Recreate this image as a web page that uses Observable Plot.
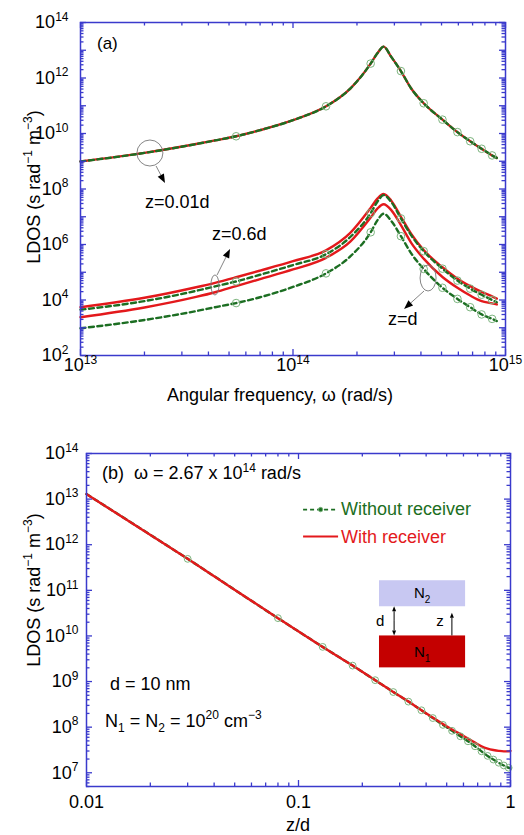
<!DOCTYPE html>
<html><head><meta charset="utf-8">
<script src="https://cdn.jsdelivr.net/npm/d3@7"></script>
<script src="https://cdn.jsdelivr.net/npm/@observablehq/plot@0.6"></script>
<style>
body{margin:0;background:#fff;}
#chart{width:524px;height:835px;}
svg{display:block;}
</style></head><body><div id="chart"></div>
<script>
// ---------------- Panel (a): LDOS vs angular frequency ----------------
const omega = [1e13, 2.0e13, 3.5e13, 4.3e13, 5.4e13, 7.0e13, 1.0e14, 1.43e14, 1.86e14, 2.32e14, 2.5e14, 2.67e14, 2.9e14, 3.22e14, 3.6e14, 4.12e14, 5.05e14, 5.94e14, 6.82e14, 7.72e14, 8.65e14, 9.1e14];
// log10(LDOS)
const expZ001 = [8.99, 9.30, 9.62, 9.75, 9.90, 10.12, 10.48, 10.98, 11.62, 12.52, 12.90, 13.13, 12.76, 12.25, 11.62, 11.09, 10.50, 10.05, 9.72, 9.45, 9.21, 9.12];
const expZ06With = [3.74, 4.08, 4.46, 4.62, 4.82, 5.06, 5.40, 5.79, 6.42, 7.32, 7.66, 7.82, 7.58, 7.00, 6.38, 5.80, 5.18, 4.77, 4.50, 4.29, 4.13, 4.05];
const expZ06Without = [3.65, 3.96, 4.33, 4.49, 4.67, 4.91, 5.26, 5.65, 6.27, 7.13, 7.55, 7.78, 7.53, 6.94, 6.33, 5.76, 5.13, 4.70, 4.41, 4.19, 4.00, 3.92];
const expZdWith = [3.38, 3.73, 4.11, 4.28, 4.50, 4.75, 5.10, 5.52, 6.10, 6.97, 7.30, 7.45, 7.24, 6.70, 6.06, 5.49, 4.83, 4.44, 4.16, 3.96, 3.88, 3.84];
const expZdWithout = [2.98, 3.28, 3.60, 3.74, 3.89, 4.10, 4.47, 4.96, 5.57, 6.44, 6.88, 7.11, 6.85, 6.30, 5.68, 5.12, 4.44, 4.04, 3.74, 3.48, 3.32, 3.24];
const markerOmega = [5.4e13, 1.43e14, 2.32e14, 3.22e14, 4.12e14, 5.05e14, 5.94e14, 6.82e14, 7.72e14, 8.65e14];
const xTicksA = [1e13, 1e14, 1e15];
const yTicksA = [1e2, 1e4, 1e6, 1e8, 1e10, 1e12, 1e14];

// ---------------- Panel (b): LDOS vs z/d ----------------
const zd = [0.01, 0.03, 0.08, 0.13, 0.18, 0.23, 0.28, 0.33, 0.38, 0.43, 0.48, 0.53, 0.58, 0.63, 0.68, 0.73, 0.78, 0.83, 0.88, 0.93, 0.98, 1.0];
const expBWithout = [13.11, 11.69, 10.39, 9.76, 9.35, 9.03, 8.77, 8.56, 8.37, 8.20, 8.05, 7.92, 7.80, 7.69, 7.58, 7.47, 7.37, 7.29, 7.22, 7.16, 7.11, 7.10];
const expBWith = [13.11, 11.69, 10.39, 9.76, 9.35, 9.03, 8.77, 8.56, 8.37, 8.21, 8.07, 7.95, 7.85, 7.75, 7.66, 7.58, 7.53, 7.50, 7.48, 7.47, 7.47, 7.48];
const markerZd = [0.03, 0.08, 0.13, 0.18, 0.23, 0.28, 0.33, 0.38, 0.43, 0.48, 0.53, 0.58, 0.63, 0.68, 0.73, 0.78, 0.83, 0.88, 0.93, 0.98];
const xTicksB = [0.01, 0.1, 1];
const yTicksB = [1e7, 1e8, 1e9, 1e10, 1e11, 1e12, 1e13, 1e14];

const RED = "#e3191c", GREEN = "#1c6e22", CIRC = "#7cb47e", BLUE = "#3a3acc";
const FONT = "Arial, 'Liberation Sans', Helvetica, sans-serif";
const NS = "http://www.w3.org/2000/svg";

function rows(xs, exps, curve) { return xs.map((x, i) => ({x, y: 10 ** exps[i], curve})); }
function minorLog(lo, hi, min, max) {
  const out = [];
  for (let e = lo; e < hi; e++) for (let m = 2; m <= 9; m++) { const v = m * 10 ** e; if (v >= min && v <= max) out.push(v); }
  return out;
}
const pow10 = d => `10^{${Math.round(Math.log10(d))}}`;

function richify(el, fs) {
  const s = el.textContent;
  if (!/[\^_]\{/.test(s)) return;
  const parts = s.split(/([\^_]\{[^}]*\})/);
  while (el.firstChild) el.removeChild(el.firstChild);
  let shift = 0;
  for (const p of parts) {
    if (!p) continue;
    const m = p.match(/^([\^_])\{(.*)\}$/);
    const t = document.createElementNS(NS, "tspan");
    if (m) {
      const target = m[1] === "^" ? -0.42 * fs : 0.28 * fs;
      t.setAttribute("dy", target - shift); shift = target;
      t.setAttribute("font-size", Math.round(0.68 * fs));
      t.textContent = m[2];
    } else {
      t.setAttribute("dy", -shift); shift = 0;
      t.textContent = p;
    }
    el.appendChild(t);
  }
}
function richifyAll(svg) {
  d3.select(svg).selectAll("text").each(function () {
    richify(this, parseFloat(getComputedStyle(this).fontSize));
  });
}
function frameTicks(xMaj, xMin, yMaj, yMin, iw, ih) {
  const st = {stroke: BLUE, strokeWidth: 1.3};
  const MJ = 6, MN = 3.5;
  return [
    Plot.ruleX(xMaj, {x: d => d, insetTop: ih - MJ, ...st}),
    Plot.ruleX(xMaj, {x: d => d, insetBottom: ih - MJ, ...st}),
    Plot.ruleX(xMin, {x: d => d, insetTop: ih - MN, ...st}),
    Plot.ruleX(xMin, {x: d => d, insetBottom: ih - MN, ...st}),
    Plot.ruleY(yMaj, {y: d => d, insetRight: iw - MJ, ...st}),
    Plot.ruleY(yMaj, {y: d => d, insetLeft: iw - MJ, ...st}),
    Plot.ruleY(yMin, {y: d => d, insetRight: iw - MN, ...st}),
    Plot.ruleY(yMin, {y: d => d, insetLeft: iw - MN, ...st})
  ];
}
function addText(g, x, y, str, o = {}) {
  const size = o.size || 18;
  const t = g.append("text").attr("x", x).attr("y", y).attr("font-size", size)
    .attr("fill", o.fill || "black").attr("text-anchor", o.anchor || "start").attr("font-family", FONT);
  if (o.rotate) t.attr("transform", `rotate(${o.rotate},${x},${y})`);
  t.text(str);
  richify(t.node(), size);
  return t;
}
function arrow(g, x1, y1, x2, y2, o = {}) {
  const hl = o.hl || 9, hw = o.hw || 7;
  const dx = x2 - x1, dy = y2 - y1, L = Math.hypot(dx, dy), ux = dx / L, uy = dy / L;
  const bx = x2 - ux * hl, by = y2 - uy * hl;
  g.append("line").attr("x1", x1).attr("y1", y1).attr("x2", bx).attr("y2", by)
    .attr("stroke", o.stroke || "#777").attr("stroke-width", o.sw || 0.9);
  g.append("path").attr("d", `M${x2},${y2}L${bx - uy * hw / 2},${by + ux * hw / 2}L${bx + uy * hw / 2},${by - ux * hw / 2}Z`)
    .attr("fill", o.head || "#000");
}

const chart = document.getElementById("chart");

// ---------- Panel (a) ----------
{
  const W = 524, H = 412, ml = 80, mr = 19, mt = 22, mb = 57;
  const iw = W - ml - mr, ih = H - mt - mb;
  const red = [...rows(omega, expZ001, "z001"), ...rows(omega, expZ06With, "z06"), ...rows(omega, expZdWith, "zd")];
  const green = [...rows(omega, expZ001, "z001"), ...rows(omega, expZ06Without, "z06"), ...rows(omega, expZdWithout, "zd")];
  const marks = green.filter(d => markerOmega.includes(d.x));
  const svg = Plot.plot({
    width: W, height: H, marginLeft: ml, marginRight: mr, marginTop: mt, marginBottom: mb,
    x: {type: "log", domain: [1e13, 1e15], label: null},
    y: {type: "log", domain: [1e2, 1e14], label: null},
    style: {fontFamily: FONT, fontSize: "18px", color: "black", background: "white", overflow: "visible"},
    marks: [
      Plot.line(red, {x: "x", y: "y", z: "curve", stroke: RED, strokeWidth: 2.4, curve: "monotone-x"}),
      Plot.line(green, {x: "x", y: "y", z: "curve", stroke: GREEN, strokeWidth: 2.4, strokeDasharray: "5,3.5", curve: "monotone-x"}),
      Plot.dot(marks, {x: "x", y: "y", r: 3.8, stroke: CIRC, strokeWidth: 1, fill: "none"}),
      ...frameTicks(xTicksA, minorLog(13, 15, 1e13, 1e15), minorLog(2, 15, 1e2, 1e14).length ? d3.range(2, 15).map(e => 10 ** e) : [], minorLog(2, 14, 1e2, 1e14), iw, ih),
      Plot.frame({stroke: BLUE, strokeWidth: 1.5}),
      Plot.axisX(xTicksA, {tickSize: 0, tickPadding: 3, tickFormat: pow10, fontSize: 18, label: null}),
      Plot.axisY(yTicksA, {tickSize: 0, tickPadding: 12, tickFormat: pow10, fontSize: 18, label: null})
    ]
  });
  chart.appendChild(svg);
  richifyAll(svg);
  const sx = svg.scale("x"), sy = svg.scale("y");
  const P = (lx, ly) => [sx.apply(10 ** lx), sy.apply(10 ** ly)];
  const g = d3.select(svg).append("g");
  addText(g, ...P(13.08, 13.03), "(a)", {size: 17});
  // z = 0.01d
  let c = P(13.329, 9.279);
  g.append("circle").attr("cx", c[0]).attr("cy", c[1]).attr("r", 13).attr("fill", "none").attr("stroke", "#777").attr("stroke-width", 0.9);
  arrow(g, ...P(13.358, 8.811), ...P(13.400, 8.198));
  addText(g, ...P(13.306, 7.297), "z=0.01d");
  // z = 0.6d
  c = P(13.635, 4.523);
  g.append("ellipse").attr("cx", c[0]).attr("cy", c[1]).attr("rx", 4).attr("ry", 10).attr("fill", "none").attr("stroke", "#777").attr("stroke-width", 0.9);
  arrow(g, ...P(13.645, 4.883), ...P(13.706, 5.82));
  addText(g, ...P(13.621, 6.144), "z=0.6d");
  // z = d
  c = P(14.638, 4.775);
  g.append("ellipse").attr("cx", c[0]).attr("cy", c[1]).attr("rx", 8).attr("ry", 13).attr("fill", "none").attr("stroke", "#777").attr("stroke-width", 0.9);
  arrow(g, ...P(14.619, 4.306), ...P(14.525, 3.658));
  addText(g, ...P(14.449, 3.081), "z=d");
  // axis titles
  addText(g, 280, 401, "Angular frequency, ω (rad/s)", {anchor: "middle"});
  addText(g, 40, 187, "LDOS (s rad^{−1} m^{−3})", {anchor: "middle", rotate: -90});
}

// ---------- Panel (b) ----------
{
  const W = 524, H = 423, ml = 86, mr = 14, mt = 41, mb = 49;
  const iw = W - ml - mr, ih = H - mt - mb;
  const without = rows(zd, expBWithout, "without");
  const withR = rows(zd, expBWith, "with");
  const marks = without.filter(d => markerZd.includes(d.x));
  const svg = Plot.plot({
    width: W, height: H, marginLeft: ml, marginRight: mr, marginTop: mt, marginBottom: mb,
    x: {type: "log", domain: [0.01, 1], label: null},
    y: {type: "log", domain: [5e6, 1e14], label: null},
    style: {fontFamily: FONT, fontSize: "18px", color: "black", background: "white", overflow: "visible"},
    marks: [
      Plot.line(without, {x: "x", y: "y", stroke: GREEN, strokeWidth: 2.4, strokeDasharray: "5,3.5", curve: "monotone-x"}),
      Plot.line(withR, {x: "x", y: "y", stroke: RED, strokeWidth: 2.4, curve: "monotone-x"}),
      Plot.dot(marks, {x: "x", y: "y", r: 3.4, stroke: CIRC, strokeWidth: 1, fill: "none"}),
      ...frameTicks(xTicksB, minorLog(-2, 0, 0.01, 1), yTicksB, minorLog(6, 14, 5e6, 1e14), iw, ih),
      Plot.frame({stroke: BLUE, strokeWidth: 1.5}),
      Plot.axisX(xTicksB, {tickSize: 0, tickPadding: 9, tickFormat: d => String(d), fontSize: 18, label: null}),
      Plot.axisY(yTicksB, {tickSize: 0, tickPadding: 8, tickFormat: pow10, fontSize: 18, label: null})
    ]
  });
  chart.appendChild(svg);
  richifyAll(svg);
  const sx = svg.scale("x"), sy = svg.scale("y");
  const P = (lx, ly) => [sx.apply(10 ** lx), sy.apply(10 ** ly)];
  const g = d3.select(svg).append("g");
  addText(g, ...P(-1.925, 13.42), "(b)  ω = 2.67 x 10^{14} rad/s");
  // legend
  let a = P(-0.976, 12.76), b = P(-0.811, 12.76);
  g.append("line").attr("x1", a[0]).attr("y1", a[1]).attr("x2", b[0]).attr("y2", b[1]).attr("stroke", GREEN).attr("stroke-width", 1.8).attr("stroke-dasharray", "4,3");
  g.append("circle").attr("cx", (a[0] + b[0]) / 2).attr("cy", a[1]).attr("r", 2.2).attr("fill", GREEN).attr("stroke", CIRC).attr("stroke-width", 1);
  addText(g, ...P(-0.797, 12.63), "Without receiver", {fill: GREEN});
  a = P(-0.976, 12.17); b = P(-0.811, 12.17);
  g.append("line").attr("x1", a[0]).attr("y1", a[1]).attr("x2", b[0]).attr("y2", b[1]).attr("stroke", RED).attr("stroke-width", 2);
  addText(g, ...P(-0.797, 12.02), "With receiver", {fill: RED});
  // inset schematic
  const r2a = P(Math.log10(0.241), 11.21), r2b = P(Math.log10(0.614), 10.64);
  g.append("rect").attr("x", r2a[0]).attr("y", r2a[1]).attr("width", r2b[0] - r2a[0]).attr("height", r2b[1] - r2a[1]).attr("fill", "#c8c8f2");
  const r1a = P(Math.log10(0.241), 10.0), r1b = P(Math.log10(0.614), 9.30);
  g.append("rect").attr("x", r1a[0]).attr("y", r1a[1]).attr("width", r1b[0] - r1a[0]).attr("height", r1b[1] - r1a[1]).attr("fill", "#c40000");
  addText(g, ...P(Math.log10(0.385), 10.81), "N_{2}", {size: 15, anchor: "middle"});
  addText(g, ...P(Math.log10(0.385), 9.52), "N_{1}", {size: 15, anchor: "middle"});
  const dTop = P(Math.log10(0.284), 10.64), dBot = P(Math.log10(0.284), 10.0);
  const mid = [(dTop[0]), (dTop[1] + dBot[1]) / 2];
  arrow(g, ...mid, ...dTop, {stroke: "#000", hl: 5, hw: 4, sw: 1});
  arrow(g, ...mid, ...dBot, {stroke: "#000", hl: 5, hw: 4, sw: 1});
  arrow(g, ...P(Math.log10(0.532), 10.0), ...P(Math.log10(0.532), 10.50), {stroke: "#000", hl: 5, hw: 4, sw: 1});
  addText(g, ...P(Math.log10(0.244), 10.20), "d", {size: 15, anchor: "middle"});
  addText(g, ...P(Math.log10(0.468), 10.20), "z", {size: 15, anchor: "middle"});
  addText(g, ...P(-1.887, 8.81), "d = 10 nm");
  addText(g, ...P(-1.910, 8.0), "N_{1} = N_{2} = 10^{20} cm^{−3}");
  addText(g, 298, 419, "z/d", {anchor: "middle"});
  addText(g, 40, 178, "LDOS (s rad^{−1} m^{−3})", {anchor: "middle", rotate: -90});
}
</script>
</body></html>
